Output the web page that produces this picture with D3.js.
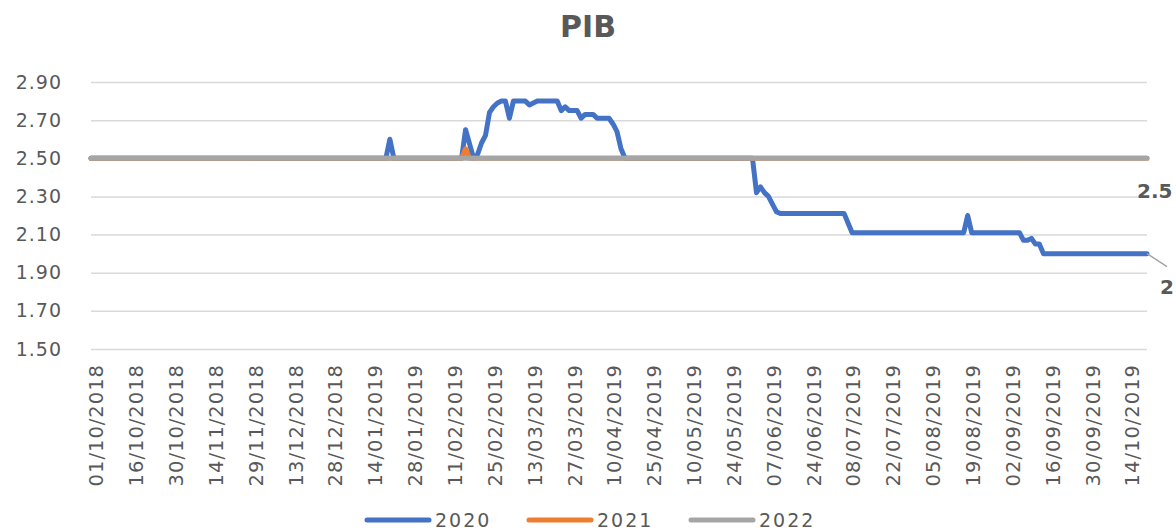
<!DOCTYPE html>
<html>
<head>
<meta charset="utf-8">
<script src="https://cdn.jsdelivr.net/npm/d3@7"></script>
<style>
  body { margin: 0; background: #fff; }
  text { font-family: "DejaVu Sans", Verdana, sans-serif; fill: #595959; }
</style>
</head>
<body>
<div id="chart"></div>
<script>
// tick labels, one every 10 categories
const tickLabels = ["01/10/2018", "16/10/2018", "30/10/2018", "14/11/2018", "29/11/2018",
  "13/12/2018", "28/12/2018", "14/01/2019", "28/01/2019", "11/02/2019", "25/02/2019",
  "13/03/2019", "27/03/2019", "10/04/2019", "25/04/2019", "10/05/2019", "24/05/2019",
  "07/06/2019", "24/06/2019", "08/07/2019", "22/07/2019", "05/08/2019", "19/08/2019",
  "02/09/2019", "16/09/2019", "30/09/2019", "14/10/2019"];
const tickStep = 10;
const lastIndex = 265;

const yTicks = [1.5, 1.7, 1.9, 2.1, 2.3, 2.5, 2.7, 2.9];

// [category index, value] where the series changes
const pib2020 = [[0, 2.5], [74, 2.5], [75, 2.6], [76, 2.5], [93, 2.5], [94, 2.65], [96, 2.5],
  [97, 2.52], [98, 2.58], [99, 2.62], [100, 2.74], [101, 2.77], [102, 2.79], [103, 2.8],
  [104, 2.8], [105, 2.71], [106, 2.8], [109, 2.8], [110, 2.78], [111, 2.79], [112, 2.8],
  [117, 2.8], [118, 2.75], [119, 2.77], [120, 2.75], [122, 2.75], [123, 2.71], [124, 2.73],
  [126, 2.73], [127, 2.71], [130, 2.71], [131, 2.68], [132, 2.64], [133, 2.55], [134, 2.5],
  [166, 2.5], [167, 2.32], [168, 2.35], [169, 2.32], [170, 2.3], [171, 2.26], [172, 2.22],
  [173, 2.21], [189, 2.21], [191, 2.11], [219, 2.11], [220, 2.2], [221, 2.11], [233, 2.11],
  [234, 2.07], [235, 2.07], [236, 2.08], [237, 2.05], [238, 2.05], [239, 2.0], [265, 2.0]];
const pib2021 = [[0, 2.5], [93, 2.5], [94, 2.55], [95, 2.5], [265, 2.5]];
const pib2022 = [[0, 2.5], [265, 2.5]];

const seriesNames = ["2020", "2021", "2022"];
const colors = ["#4472C4", "#ED7D31", "#A5A5A5"];

const width = 1176, height = 530;
const margin = { top: 82, right: 29, bottom: 181, left: 91 };

const svg = d3.select("#chart").append("svg")
  .attr("width", width)
  .attr("height", height);

// scales
const x = d3.scaleLinear()
  .domain([0, lastIndex])
  .range([margin.left, width - margin.right]);
const y = d3.scaleLinear()
  .domain([1.5, 2.9])
  .range([height - margin.bottom, margin.top]);

// title
svg.append("text")
  .attr("x", 588)
  .attr("y", 37)
  .attr("text-anchor", "middle")
  .style("font-size", "30px")
  .style("font-weight", "bold")
  .text("PIB");

// gridlines + y labels
const yAxis = svg.append("g")
  .attr("transform", `translate(${margin.left},0)`)
  .call(d3.axisLeft(y).tickValues(yTicks)
    .tickSize(-(width - margin.left - margin.right))
    .tickFormat(d3.format(".2f")));
yAxis.select(".domain").remove();
yAxis.selectAll(".tick line").attr("stroke", "#D9D9D9").attr("stroke-width", 1.5);
yAxis.selectAll(".tick text")
  .attr("x", -29)
  .style("font-size", "19px")
  .style("letter-spacing", "1px")
  .attr("fill", "#595959");

// x labels (category axis)
const xAxis = svg.append("g")
  .attr("transform", `translate(0,${height - margin.bottom})`)
  .call(d3.axisBottom(x)
    .tickValues(tickLabels.map((d, i) => i * tickStep))
    .tickSize(0)
    .tickFormat((d, i) => tickLabels[i]));
xAxis.select(".domain").remove();
xAxis.selectAll(".tick text")
  .attr("transform", "rotate(-90)")
  .attr("text-anchor", "end")
  .attr("x", -15)
  .attr("y", 5)
  .attr("dy", "0.35em")
  .style("font-size", "19.5px")
  .style("letter-spacing", "1px")
  .attr("fill", "#595959");

// lines
const line = d3.line()
  .x(d => x(d[0]))
  .y(d => y(d[1]));

[pib2020, pib2021, pib2022].forEach((s, i) => {
  svg.append("path")
    .datum(s)
    .attr("fill", "none")
    .attr("stroke", colors[i])
    .attr("stroke-width", 5)
    .attr("stroke-linejoin", "round")
    .attr("stroke-linecap", "round")
    .attr("d", line);
});

// data labels at the end
const end22 = pib2022[pib2022.length - 1];
svg.append("text")
  .attr("x", x(end22[0]) - 10)
  .attr("y", y(end22[1]) + 40)
  .style("font-size", "20px")
  .style("font-weight", "bold")
  .attr("fill", "#404040")
  .text(end22[1]);

const end20 = pib2020[pib2020.length - 1];
svg.append("line")
  .attr("x1", x(end20[0]))
  .attr("y1", y(end20[1]))
  .attr("x2", x(end20[0]) + 20)
  .attr("y2", y(end20[1]) + 13)
  .attr("stroke", "#A5A5A5")
  .attr("stroke-width", 1.5);
svg.append("text")
  .attr("x", x(end20[0]) + 13)
  .attr("y", y(end20[1]) + 40)
  .style("font-size", "20px")
  .style("font-weight", "bold")
  .attr("fill", "#404040")
  .text(end20[1]);

// legend
const legend = svg.append("g").attr("transform", "translate(365,520)");
seriesNames.forEach((name, i) => {
  const g = legend.append("g").attr("transform", `translate(${i * 162},0)`);
  g.append("line")
    .attr("x1", 2).attr("x2", 64)
    .attr("stroke", colors[i])
    .attr("stroke-width", 5)
    .attr("stroke-linecap", "round");
  g.append("text")
    .attr("x", 70)
    .attr("dy", "0.36em")
    .style("font-size", "19px")
    .style("letter-spacing", "2px")
    .text(name);
});
</script>
</body>
</html>
